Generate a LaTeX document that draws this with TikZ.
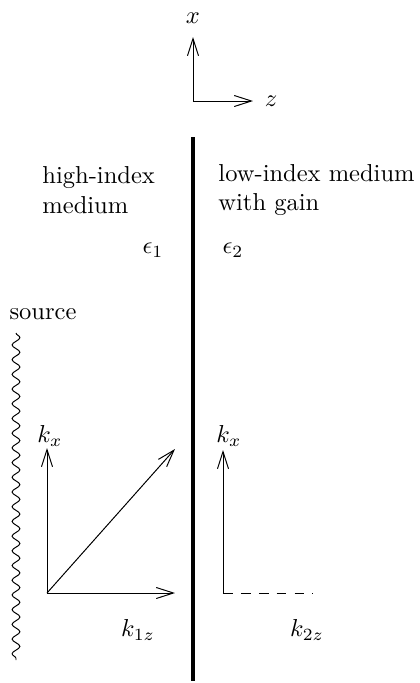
\documentclass[tikz,border=0pt]{standalone}
\usetikzlibrary{arrows.meta, decorations.pathmorphing}

\begin{document}
\begin{tikzpicture}[
        % --- Style Definitions ---
        x=0.408pt, y=-0.408pt,
        vec/.style={-{Straight Barb[length=7pt, width=4.5pt]}},
        interface/.style={line width=1.6pt},
        txt/.style={inner sep=0pt},
        medium/.style={inner sep=0pt, align=left, anchor=west},
        wave/.style={decorate, decoration={snake, amplitude=1.6pt, segment length=6pt}},
        evanescent/.style={dash pattern=on 4pt off 3.3pt}
    ]
        \useasboundingbox (0,0) rectangle (419,683);

        % --- Coordinate axes ---
        \coordinate (ax_o) at (193,101);
        \coordinate (ax_x) at (193,37);
        \coordinate (ax_z) at (253,101);
        \draw[vec] (ax_o) -- (ax_x);
        \draw[vec] (ax_o) -- (ax_z);
        \node[txt] (lab_x) at (193,18) {$x$};
        \node[txt] (lab_z) at (271,101) {$z$};

        % --- Interface ---
        \coordinate (if_top) at (193,137);
        \coordinate (if_bot) at (193,681);
        \draw[interface] (if_top) -- (if_bot);

        % --- Media ---
        \node[medium] (high) at (42,190) {high-index\\medium};
        \node[medium] (low) at (218,190) {low-index medium\\with gain};
        \node[txt] (eps1) at (153,250) {$\epsilon_1$};
        \node[txt] (eps2) at (233,250) {$\epsilon_2$};

        % --- Source ---
        \node[txt] (src) at (43,314) {source};
        \coordinate (src_top) at (16,333);
        \coordinate (src_bot) at (16,660);
        \draw[wave] (src_top) -- (src_bot);

        % --- Wave vectors, medium 1 ---
        \coordinate (o1) at (47,593);
        \coordinate (kx1) at (47,448);
        \coordinate (k1z) at (175,593);
        \coordinate (k1) at (175,449);
        \draw[vec] (o1) -- (kx1);
        \draw[vec] (o1) -- (k1z);
        \draw[vec] (o1) -- (k1);
        \node[txt] (lab_kx1) at (50,436) {$k_x$};
        \node[txt] (lab_k1z) at (138,630) {$k_{1z}$};

        % --- Wave vectors, medium 2 ---
        \coordinate (o2) at (223,593);
        \coordinate (kx2) at (223,450);
        \coordinate (k2z) at (313,593);
        \draw[vec] (o2) -- (kx2);
        \draw[evanescent] (o2) -- (k2z);
        \node[txt] (lab_kx2) at (229,436) {$k_x$};
        \node[txt] (lab_k2z) at (307,630) {$k_{2z}$};

    \end{tikzpicture}
\end{document}
